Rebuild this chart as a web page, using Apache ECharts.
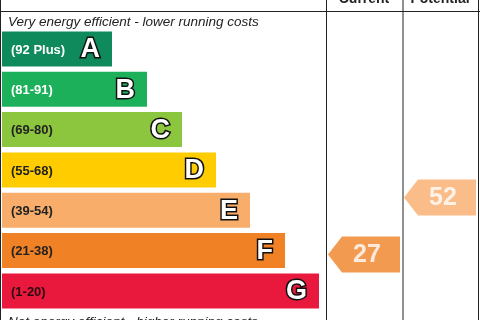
<!DOCTYPE html>
<html><head><meta charset="utf-8">
<script src="https://cdn.jsdelivr.net/npm/echarts@6/dist/echarts.min.js"></script>
<style>html,body{margin:0;padding:0;background:#fff}#c{width:480px;height:320px}</style>
</head><body><div id="c"></div>
<script>
// Data
const bandLetters = ['A','B','C','D','E','F','G'];
const bandRanges = ['(92 Plus)','(81-91)','(69-80)','(55-68)','(39-54)','(21-38)','(1-20)'];
const bandMins = [92,81,69,55,39,21,1];
const bandLengths = [110,145,180,214,248,283,317];
const bandColors = ['#0f8a5c','#1db05b','#8cc63f','#ffcc00','#f9ad6b','#f08125','#e8193c'];
const rangeTextColors = ['#ffffff','#ffffff','#222222','#222222','#222222','#222222','#2a0a10'];
const columns = ['Current','Potential'];
const ratings = [27, 52];
const topNote = 'Very energy efficient - lower running costs';
const bottomNote = 'Not energy efficient - higher running costs';

function bandOf(v){ for(let i=0;i<bandMins.length;i++){ if(v>=bandMins[i]) return i; } return bandMins.length-1; }

const FONT = 'Liberation Sans, Arial, sans-serif';
const chart = echarts.init(document.getElementById('c'), null, {renderer:'canvas'});
const arrowPath = 'path://M0,18 L14,0 L72,0 L72,36 L14,36 Z';

const option = {
  animation:false,
  textStyle:{fontFamily:FONT},
  grid:[
    {left:2, width:478, top:28.8, height:282.3, containLabel:false, outerBoundsMode:'none'},
    {left:326, width:152, top:88, height:228, containLabel:false, outerBoundsMode:'none'}
  ],
  xAxis:[
    {gridIndex:0, type:'value', min:0, max:478, show:false},
    {gridIndex:1, type:'category', data:columns, position:'top', offset:77,
     axisLine:{show:false}, axisTick:{show:false}, splitLine:{show:false},
     axisLabel:{interval:0, hideOverlap:false, margin:5, fontWeight:'bold', fontSize:14, color:'#222', fontFamily:FONT}}
  ],
  yAxis:[
    {gridIndex:0, type:'category', data:bandLetters, inverse:true, show:false},
    {gridIndex:1, type:'value', min:0, max:100, show:false}
  ],
  series:[
    {type:'bar', xAxisIndex:0, yAxisIndex:0, barWidth:35, barGap:'-100%',
     data:bandLengths.map((v,i)=>({value:v, itemStyle:{color:bandColors[i]},
       label:{color:rangeTextColors[i]}})),
     label:{show:true, position:'insideLeft', offset:[4,1], formatter:p=>bandRanges[p.dataIndex],
       fontSize:13, fontWeight:'bold', fontFamily:FONT}},
    {type:'bar', xAxisIndex:0, yAxisIndex:0, barWidth:35, barGap:'-100%',
     data:bandLengths.slice(), itemStyle:{color:'rgba(0,0,0,0)'},
     label:{show:true, position:'insideRight', offset:[-7,1], formatter:p=>bandLetters[p.dataIndex],
       fontSize:27, fontWeight:'bold', color:'#fff', textBorderColor:'#111', textBorderWidth:3, fontFamily:FONT}},
    {type:'scatter', xAxisIndex:1, yAxisIndex:1, symbol:arrowPath, symbolSize:[72,36],
     data:ratings.map((v,i)=>({value:[columns[i], v], itemStyle:{color:bandColors[bandOf(v)]}})),
     label:{show:true, position:'inside', offset:[3,1], formatter:p=>String(p.value[1]),
       fontSize:25, fontWeight:'bold', color:'#fff', fontFamily:FONT}}
  ],
  graphic:[
    {type:'line', shape:{x1:0, y1:11.5, x2:480, y2:11.5}, style:{stroke:'#222', lineWidth:1}},
    {type:'line', shape:{x1:0.5, y1:0, x2:0.5, y2:320}, style:{stroke:'#222', lineWidth:1}},
    {type:'line', shape:{x1:326.5, y1:0, x2:326.5, y2:320}, style:{stroke:'#222', lineWidth:1}},
    {type:'line', shape:{x1:403, y1:0, x2:403, y2:320}, style:{stroke:'#222', lineWidth:1}},
    {type:'line', shape:{x1:478.5, y1:0, x2:478.5, y2:320}, style:{stroke:'#222', lineWidth:1}},
    {type:'text', left:8, top:15, style:{text:topNote, font:'italic 13.5px '+FONT, fill:'#222'}},
    {type:'text', left:8, top:315, style:{text:bottomNote, font:'italic 13.5px '+FONT, fill:'#222'}}
  ]
};
chart.setOption(option);
</script></body></html>
